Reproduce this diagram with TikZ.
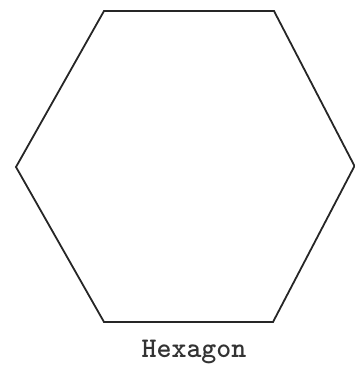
\documentclass[tikz,border=0pt]{standalone}
\begin{document}
\begin{tikzpicture}[x=1pt,y=-1pt,
  edge/.style={line width=1.8pt,line join=miter,draw=black!85},
  lbl/.style={font=\ttfamily\bfseries\fontsize{28.5}{32}\selectfont,text=black!80,inner sep=0pt}]
\useasboundingbox (0,0) rectangle (355,366);
\coordinate (tl) at (104,11);
\coordinate (tr) at (274,11);
\coordinate (r) at (354.5,166);
\coordinate (br) at (273,322);
\coordinate (bl) at (104,322);
\coordinate (l) at (16,167);
\draw[edge] (tl) -- (tr) -- (r) -- (br) -- (bl) -- (l) -- cycle;
\node[lbl,anchor=base] (label) at (194,357) {Hexagon};
\end{tikzpicture}
\end{document}
